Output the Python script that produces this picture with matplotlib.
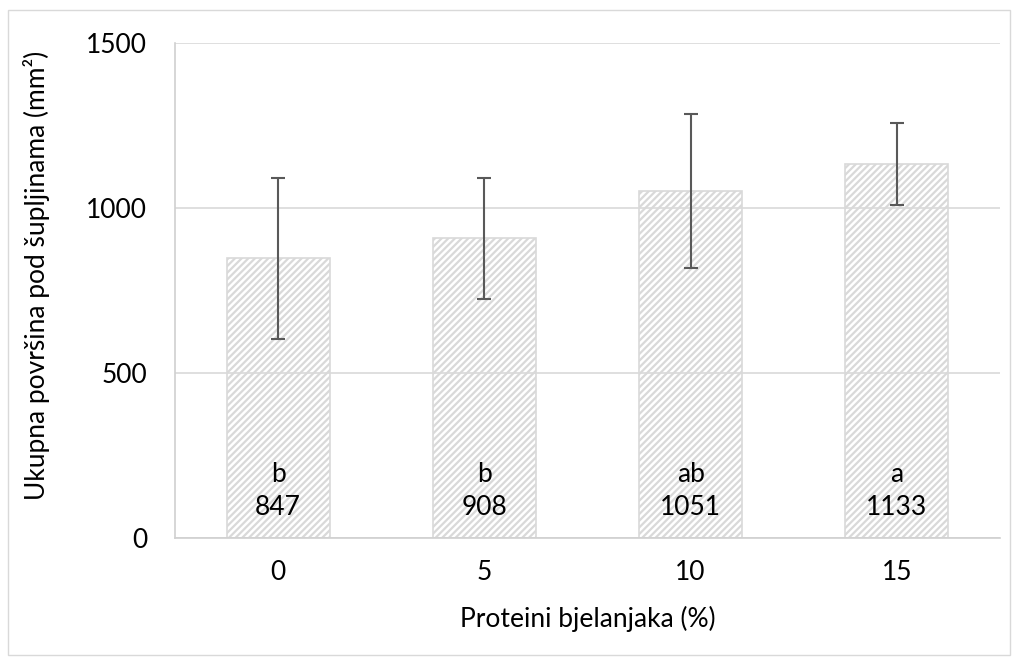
import matplotlib.pyplot as plt
from matplotlib.patches import Rectangle

# podaci
kategorije = ["0", "5", "10", "15"]
povrsina = [847, 908, 1051, 1133]
greska = [244, 183, 233, 125]
slova = ["b", "b", "ab", "a"]

plt.rcParams['font.family'] = ['Lato', 'DejaVu Sans']
plt.rcParams['hatch.color'] = '#d0d0d0'
plt.rcParams['hatch.linewidth'] = 1.6

fig = plt.figure(figsize=(10.17, 6.64), dpi=100)
ax = fig.add_axes([175/1017, 1-538/664, 825/1017, 495/664])

x = range(len(kategorije))
ax.set_axisbelow(True)
ax.grid(axis='y', color='#d9d9d9', linewidth=1.2)
bars = ax.bar(x, povrsina, width=0.5, color='none', edgecolor='#d9d9d9',
              hatch='/////', linewidth=1.2, zorder=2)
ax.errorbar(x, povrsina, yerr=greska, fmt='none', ecolor='#595959',
            elinewidth=1.5, capsize=5, capthick=1.5, zorder=3)

# slova i vrijednosti unutar stupaca
for i in x:
    ax.text(i, 191, slova[i], ha='center', va='center', fontsize=19, zorder=4)
    ax.text(i, 91, str(povrsina[i]), ha='center', va='center', fontsize=19, zorder=4)

ax.set_xlim(-0.5, 3.5)
ax.set_ylim(0, 1500)
ax.set_yticks([0, 500, 1000, 1500])
ax.set_xticks(list(x))
ax.set_xticklabels(kategorije)
ax.tick_params(length=0, labelsize=19)
ax.tick_params(axis='y', pad=20)
ax.tick_params(axis='x', pad=16)
for s in ['top', 'right']:
    ax.spines[s].set_visible(False)
ax.spines['left'].set_color('#d0d0d0')
ax.spines['bottom'].set_color('#d0d0d0')
ax.spines['left'].set_linewidth(1.2)
ax.spines['bottom'].set_linewidth(1.2)

ax.set_xlabel("Proteini bjelanjaka (%)", fontsize=19, labelpad=15)
ax.set_ylabel("Ukupna površina pod šupljinama (mm²)", fontsize=19)
ax.yaxis.set_label_coords(-0.152, 0.53)

fig.patches.append(Rectangle((8/1017, 1-655/664), 1002/1017, 645/664,
                             transform=fig.transFigure, fill=False,
                             edgecolor='#d9d9d9', linewidth=1))

fig.savefig("out.png", dpi=100)
